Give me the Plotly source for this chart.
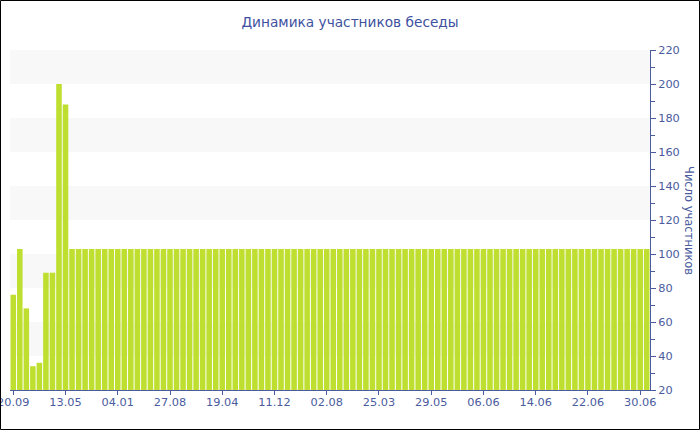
import plotly.graph_objects as go

# --- data ---
participants = [
    76, 103, 68, 34, 36, 89, 89, 200, 188, 103,
    103, 103, 103, 103, 103, 103, 103, 103, 103, 103,
    103, 103, 103, 103, 103, 103, 103, 103, 103, 103,
    103, 103, 103, 103, 103, 103, 103, 103, 103, 103,
    103, 103, 103, 103, 103, 103, 103, 103, 103, 103,
    103, 103, 103, 103, 103, 103, 103, 103, 103, 103,
    103, 103, 103, 103, 103, 103, 103, 103, 103, 103,
    103, 103, 103, 103, 103, 103, 103, 103, 103, 103,
    103, 103, 103, 103, 103, 103, 103, 103, 103, 103,
    103, 103, 103, 103, 103, 103, 103, 103,
]
bar_index = list(range(len(participants)))
tick_labels = ["20.09", "13.05", "04.01", "27.08", "19.04", "11.12", "02.08",
               "25.03", "29.05", "06.06", "14.06", "22.06", "30.06"]
tick_positions = bar_index[::8][:len(tick_labels)]
band_ranges = [(40, 60), (80, 100), (120, 140), (160, 180), (200, 220)]

title_text = "Динамика участников беседы"
y_title = "Число участников"

blue = "#4a5b9e"
title_blue = "#3e51a0"
font_family = "DejaVu Sans, Verdana, sans-serif"

fig = go.Figure()
fig.add_trace(go.Bar(
    x=bar_index, y=participants,
    marker=dict(color="#bedf2f", line=dict(width=0)),
    hovertemplate="%{y}<extra></extra>",
))

shapes = []
for lo, hi in band_ranges:
    shapes.append(dict(type="rect", xref="paper", yref="y", x0=0, x1=1, y0=lo, y1=hi,
                       fillcolor="#f8f8f8", line=dict(width=0), layer="below"))
# outer black frame around the whole image
shapes.append(dict(type="rect", xref="paper", yref="paper",
                   x0=(0.5 - 10) / 640, x1=(699.5 - 10) / 640,
                   y0=(390 - 429.5) / 340, y1=(390 - 0.5) / 340,
                   line=dict(color="black", width=1), fillcolor="rgba(0,0,0,0)"))

fig.update_layout(
    width=700, height=430,
    margin=dict(l=10, r=50, t=50, b=40, autoexpand=False),
    paper_bgcolor="white", plot_bgcolor="white",
    bargap=0.15,
    showlegend=False,
    font=dict(family=font_family, size=11, color=blue),
    title=dict(text=title_text, x=0.5, xref="container", xanchor="center",
               y=1 - 22 / 430, yref="container", yanchor="middle",
               font=dict(family=font_family, size=13.7, color=title_blue)),
    shapes=shapes,
    xaxis=dict(
        range=[-0.5, len(participants) - 0.5],
        tickmode="array", tickvals=tick_positions, ticktext=tick_labels,
        showline=True, linecolor=blue, linewidth=1,
        ticks="outside", ticklen=4, tickcolor=blue,
        showgrid=False, zeroline=False, automargin=False,
        ticklabeloverflow="allow", ticklabelstandoff=-3,
        tickfont=dict(size=11.3, color=blue),
    ),
    yaxis=dict(
        side="right", range=[20, 220], dtick=20, tick0=0,
        showline=True, linecolor=blue, linewidth=1,
        ticks="outside", ticklen=5, tickcolor=blue,
        minor=dict(dtick=10, ticks="outside", ticklen=4, tickcolor=blue, showgrid=False),
        showgrid=False, zeroline=False, automargin=False,
        ticklabeloverflow="allow",
        tickfont=dict(size=11.3, color=blue),
    ),
    annotations=[dict(text=y_title, xref="paper", yref="paper",
                      x=(689 - 10) / 640, y=0.5, xanchor="center", yanchor="middle",
                      textangle=90, showarrow=False,
                      font=dict(family=font_family, size=11.5, color=blue))],
)

fig.write_html("out.html", config={"displayModeBar": False},
               post_script="document.body.style.margin='0';document.body.style.padding='0';")
